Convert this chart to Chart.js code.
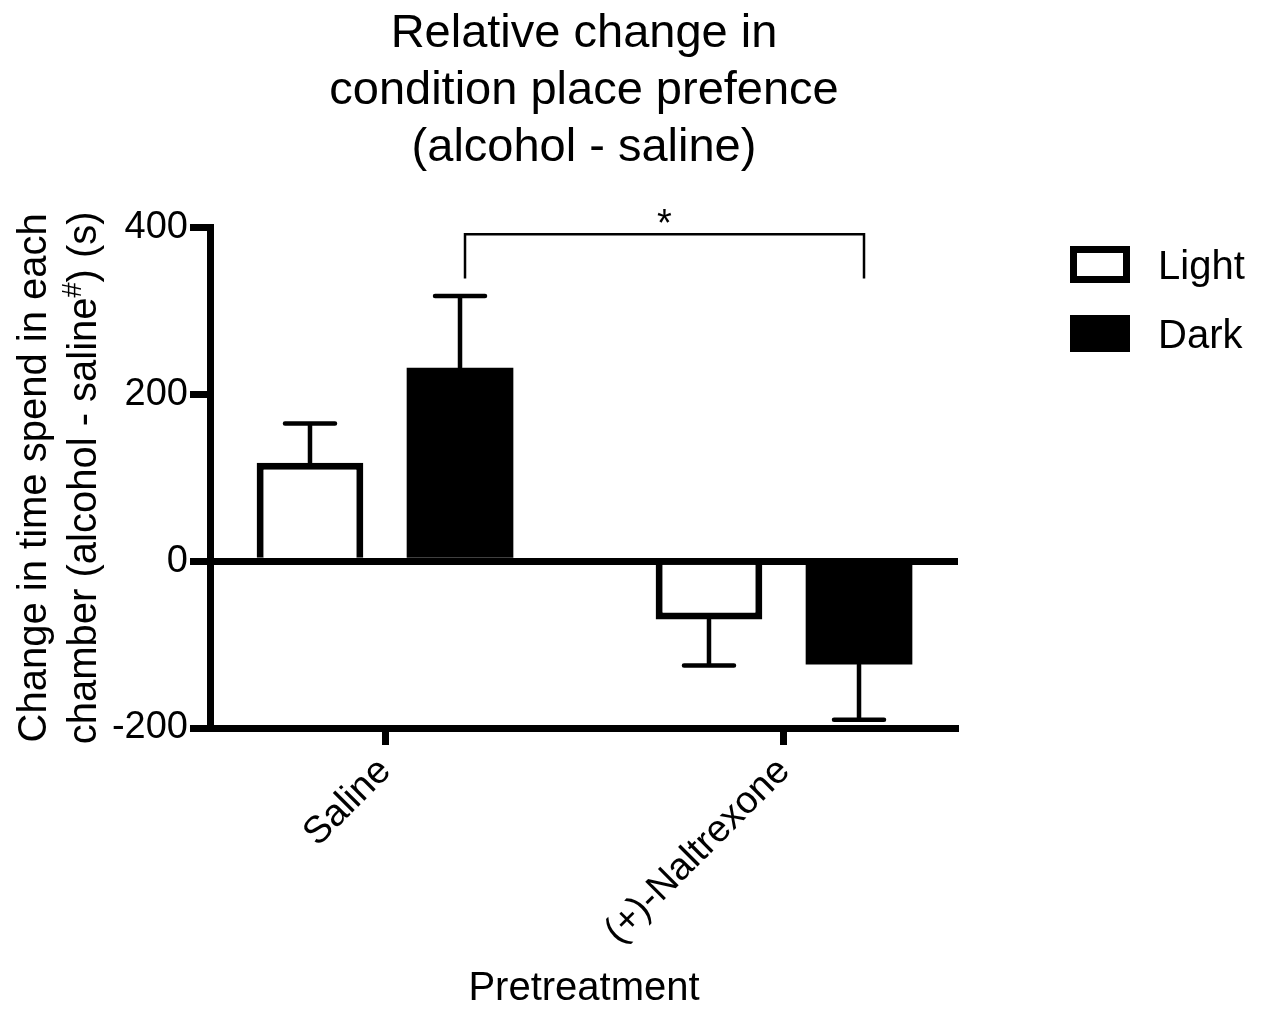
<!DOCTYPE html>
<html>
<head>
<meta charset="utf-8">
<title>Relative change in condition place prefence</title>
<script src="https://cdn.jsdelivr.net/npm/chart.js@4.4.1/dist/chart.umd.min.js"></script>
<style>
  html, body { margin: 0; padding: 0; background: #fff; }
  #wrap { position: relative; width: 1262px; height: 1009px; }
  #legend { position: absolute; left: 1070px; top: 246px; margin: 0; padding: 0; list-style: none;
    font: 40px 'Liberation Sans', Arial, sans-serif; color: #000; line-height: 1; }
  #legend li { display: flex; align-items: center; height: 37px; margin-bottom: 32px; }
  #legend .box { display: block; width: 60px; height: 37px; box-sizing: border-box; border: 7px solid #000; margin-right: 28px; }
</style>
</head>
<body>
<div id="wrap">
  <canvas id="chart"></canvas>
  <ul id="legend"></ul>
</div>
<script>
// Values
const categories = ['Saline', '(+)-Naltrexone'];
const seriesNames = ['Light', 'Dark'];
const lightMean = [118, -70];
const darkMean = [232, -124];
const lightSem = [47, 55];
const darkSem = [86, 66];
const yTicks = [-200, 0, 200, 400];
const titleLines = ['Relative change in', 'condition place prefence', '(alcohol - saline)'];
const yTitleLines = ['Change in time spend in each', 'chamber (alcohol - saline', '#', ') (s)'];
const xTitle = 'Pretreatment';
// significance bracket between the two Dark bars (in y units)
const bracketTop = 392;
const bracketBottom = 339;
const bracketLabel = '*';

const FONT = "'Liberation Sans', Arial, sans-serif";
Chart.defaults.font.family = FONT;
Chart.defaults.color = '#000';

// error bars drawn from each bar's own element
const errorBars = {
  id: 'errorBars',
  afterDatasetsDraw(chart) {
    const { ctx, scales: { y } } = chart;
    ctx.save();
    ctx.strokeStyle = '#000';
    ctx.lineWidth = 4.5;
    ctx.lineCap = 'round';
    chart.data.datasets.forEach((ds, i) => {
      chart.getDatasetMeta(i).data.forEach((bar, j) => {
        const v = ds.data[j].y;
        const yEnd = y.getPixelForValue(v + Math.sign(v) * ds.sem[j]);
        ctx.beginPath();
        ctx.moveTo(bar.x, bar.y);
        ctx.lineTo(bar.x, yEnd);
        ctx.moveTo(bar.x - 25, yEnd);
        ctx.lineTo(bar.x + 25, yEnd);
        ctx.stroke();
      });
    });
    ctx.restore();
  },
};

// "*" bracket over the Dark bars
const sigBracket = {
  id: 'sigBracket',
  afterDatasetsDraw(chart) {
    const { ctx, scales: { y } } = chart;
    const dark = chart.getDatasetMeta(1).data;
    const x1 = dark[0].x + 5;
    const x2 = dark[1].x + 5;
    const yt = y.getPixelForValue(bracketTop);
    const yb = y.getPixelForValue(bracketBottom);
    ctx.save();
    ctx.strokeStyle = '#000';
    ctx.lineWidth = 2.5;
    ctx.beginPath();
    ctx.moveTo(x1, yb);
    ctx.lineTo(x1, yt);
    ctx.lineTo(x2, yt);
    ctx.lineTo(x2, yb);
    ctx.stroke();
    ctx.fillStyle = '#000';
    ctx.font = '38px ' + FONT;
    ctx.textAlign = 'center';
    ctx.textBaseline = 'alphabetic';
    ctx.fillText(bracketLabel, (x1 + x2) / 2, yt + 2);
    ctx.restore();
  },
};

// two-line rotated y title, with superscript #
const yTitle = {
  id: 'yTitle',
  afterDraw(chart) {
    const { ctx, chartArea } = chart;
    const cy = (chartArea.top + chartArea.bottom) / 2;
    ctx.save();
    ctx.fillStyle = '#000';
    ctx.translate(0, cy);
    ctx.rotate(-Math.PI / 2);
    ctx.textBaseline = 'alphabetic';
    ctx.font = '40px ' + FONT;
    ctx.textAlign = 'center';
    ctx.fillText(yTitleLines[0], 0, 46);

    const [, a, sup, b] = yTitleLines;
    ctx.textAlign = 'left';
    const wa = ctx.measureText(a).width;
    const wb = ctx.measureText(b).width;
    ctx.font = '27px ' + FONT;
    const ws = ctx.measureText(sup).width;
    let x = -(wa + ws + wb) / 2;
    ctx.font = '40px ' + FONT;
    ctx.fillText(a, x, 96);
    ctx.font = '27px ' + FONT;
    ctx.fillText(sup, x + wa, 96 - 15);
    ctx.font = '40px ' + FONT;
    ctx.fillText(b, x + wa + ws, 96);
    ctx.restore();
  },
};

const barStyle = {
  borderColor: '#000',
  borderWidth: 7,
  borderSkipped: 'start',
  categoryPercentage: 0.752,
  barPercentage: 0.711,
};

const ctx = document.getElementById('chart');
new Chart(ctx, {
  type: 'bar',
  data: {
    datasets: [
      {
        label: seriesNames[0],
        data: lightMean.map((v, i) => ({ x: i, y: v })),
        sem: lightSem,
        backgroundColor: '#fff',
        ...barStyle,
      },
      {
        label: seriesNames[1],
        data: darkMean.map((v, i) => ({ x: i, y: v })),
        sem: darkSem,
        backgroundColor: '#000',
        ...barStyle,
        borderWidth: 0,
      },
    ],
  },
  options: {
    animation: false,
    responsive: true,
    maintainAspectRatio: false,
    layout: {
      padding: { left: 110, right: 304, top: 0, bottom: 0 },
    },
    scales: {
      x: {
        type: 'linear',
        offset: false,
        // category centres sit 399px apart, axis runs a bit past them
        min: -0.4386,
        max: 1.4361,
        afterBuildTicks: (s) => { s.ticks = categories.map((c, i) => ({ value: i })); },
        afterFit: (s) => { s.height = 281; },
        border: { display: true, width: 7, color: '#000' },
        grid: { offset: false, drawOnChartArea: false, tickLength: 17, tickWidth: 7, tickColor: '#000' },
        ticks: {
          callback: (v) => categories[v],
          minRotation: 45,
          maxRotation: 45,
          autoSkip: false,
          padding: 4,
          font: { size: 38 },
          color: '#000',
        },
        title: {
          display: true,
          text: xTitle,
          font: { size: 40, lineHeight: 1 },
          padding: 0,
          color: '#000',
        },
      },
      y: {
        min: -200,
        max: 400,
        afterBuildTicks: (s) => { s.ticks = yTicks.map((v) => ({ value: v })); },
        afterFit: (s) => { s.width = 100; },
        border: { display: true, width: 7, color: '#000' },
        grid: {
          color: (c) => (c.tick && c.tick.value === 0 ? '#000' : 'rgba(0,0,0,0)'),
          lineWidth: 7,
          tickColor: '#000',
          tickLength: 20,
          tickWidth: 7,
        },
        ticks: { font: { size: 38 }, padding: 2, color: '#000' },
      },
    },
    plugins: {
      legend: { display: false },
      tooltip: { enabled: false },
      title: {
        display: true,
        fullSize: false,
        text: titleLines,
        color: '#000',
        font: { size: 47, weight: 'normal', lineHeight: 1.21 },
        padding: { top: 6, bottom: 51 },
      },
    },
  },
  plugins: [errorBars, sigBracket, yTitle],
});

// HTML legend
const ul = document.getElementById('legend');
seriesNames.forEach((name, i) => {
  const li = document.createElement('li');
  const box = document.createElement('span');
  box.className = 'box';
  box.style.background = i === 0 ? '#fff' : '#000';
  const label = document.createElement('span');
  label.appendChild(document.createTextNode(name));
  li.appendChild(box);
  li.appendChild(label);
  ul.appendChild(li);
});
</script>
</body>
</html>
